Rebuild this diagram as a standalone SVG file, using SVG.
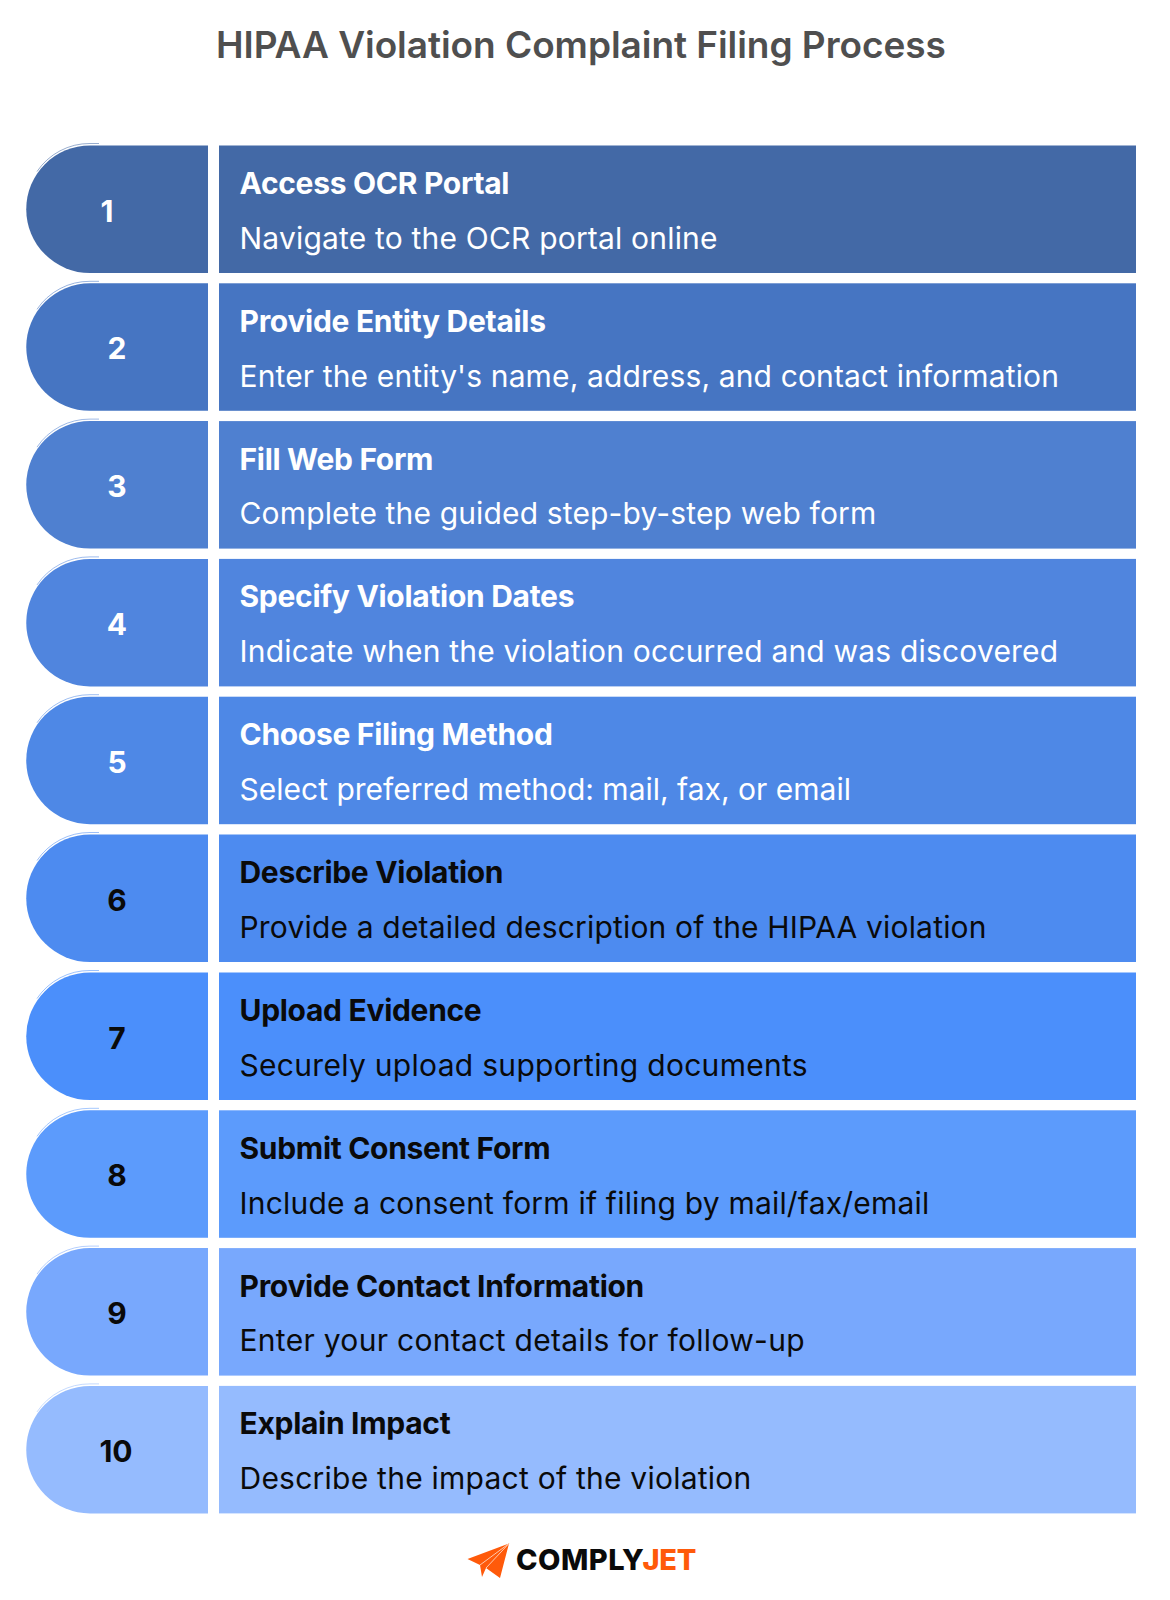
<svg xmlns="http://www.w3.org/2000/svg" width="1170" height="1600" viewBox="0 0 1170 1600">
<style>
text{font-family:Inter,"Liberation Sans",sans-serif}
.ti{font-size:37px;font-weight:600;fill:#4f4f4f;letter-spacing:-.05px}
.h{font-size:30px;font-weight:700;letter-spacing:-.3px}
.b{font-size:30px;font-weight:400;letter-spacing:.1px}
.n{font-size:30px;font-weight:700;text-anchor:middle}
.w{fill:#fff}.k{fill:#0a0a0a}
.edge{fill:none;stroke-opacity:.55;stroke-width:1}
.logo{font-size:29px;font-weight:800}
</style>
<rect width="1170" height="1600" fill="#fff"/>
<text class="ti" x="216" y="58">HIPAA Violation Complaint Filing Process</text>
<g id="step1"><path d="M208 145.500H90a63.700 63.700 0 0 0 0 127.500H208Z" fill="#4369a6"/><path class="edge" d="M99 143.500H90a63.500 63.500 0 0 0-53 28" style="stroke:#4369a6"/><rect x="219" y="145.500" width="917" height="127.500" fill="#4369a6"/><text class="n w" x="107" y="221.500">1</text><text class="h w" x="239.500" y="194">Access OCR Portal</text><text class="b w" style="letter-spacing:.19px" x="239.500" y="248.500">Navigate to the OCR portal online</text></g>
<g id="step2"><path d="M208 283.300H90a63.700 63.700 0 0 0 0 127.500H208Z" fill="#4675c2"/><path class="edge" d="M99 281.300H90a63.500 63.500 0 0 0-53 28" style="stroke:#4675c2"/><rect x="219" y="283.300" width="917" height="127.500" fill="#4675c2"/><text class="n w" x="117" y="359.300">2</text><text class="h w" x="239.500" y="331.800">Provide Entity Details</text><text class="b w" style="letter-spacing:.13px" x="239.500" y="386.600">Enter the entity's name, address, and contact information</text></g>
<g id="step3"><path d="M208 421.100H90a63.700 63.700 0 0 0 0 127.500H208Z" fill="#4f80d0"/><path class="edge" d="M99 419.100H90a63.500 63.500 0 0 0-53 28" style="stroke:#4f80d0"/><rect x="219" y="421.100" width="917" height="127.500" fill="#4f80d0"/><text class="n w" x="117" y="497.100">3</text><text class="h w" x="239.500" y="469.600">Fill Web Form</text><text class="b w" style="letter-spacing:.15px" x="239.500" y="524.400">Complete the guided step-by-step web form</text></g>
<g id="step4"><path d="M208 558.900H90a63.700 63.700 0 0 0 0 127.500H208Z" fill="#5085de"/><path class="edge" d="M99 556.900H90a63.500 63.500 0 0 0-53 28" style="stroke:#5085de"/><rect x="219" y="558.900" width="917" height="127.500" fill="#5085de"/><text class="n w" x="117" y="634.900">4</text><text class="h w" x="239.500" y="607.400">Specify Violation Dates</text><text class="b w" style="letter-spacing:.19px" x="239.500" y="661.900">Indicate when the violation occurred and was discovered</text></g>
<g id="step5"><path d="M208 696.700H90a63.700 63.700 0 0 0 0 127.500H208Z" fill="#4e88e6"/><path class="edge" d="M99 694.700H90a63.500 63.500 0 0 0-53 28" style="stroke:#4e88e6"/><rect x="219" y="696.700" width="917" height="127.500" fill="#4e88e6"/><text class="n w" x="117" y="772.700">5</text><text class="h w" x="239.500" y="745.200">Choose Filing Method</text><text class="b w" style="letter-spacing:0" x="239.500" y="799.700">Select preferred method: mail, fax, or email</text></g>
<g id="step6"><path d="M208 834.500H90a63.700 63.700 0 0 0 0 127.500H208Z" fill="#4d8bf0"/><path class="edge" d="M99 832.500H90a63.500 63.500 0 0 0-53 28" style="stroke:#4d8bf0"/><rect x="219" y="834.500" width="917" height="127.500" fill="#4d8bf0"/><text class="n k" x="117" y="910.500">6</text><text class="h k" x="239.500" y="883">Describe Violation</text><text class="b k" style="letter-spacing:.18px" x="239.500" y="937.500">Provide a detailed description of the HIPAA violation</text></g>
<g id="step7"><path d="M208 972.500H90a63.700 63.700 0 0 0 0 127.500H208Z" fill="#4b8ffb"/><path class="edge" d="M99 970.500H90a63.500 63.500 0 0 0-53 28" style="stroke:#4b8ffb"/><rect x="219" y="972.500" width="917" height="127.500" fill="#4b8ffb"/><text class="n k" x="117" y="1048.500">7</text><text class="h k" x="239.500" y="1020.800">Upload Evidence</text><text class="b k" style="letter-spacing:.3px" x="239.500" y="1075.700">Securely upload supporting documents</text></g>
<g id="step8"><path d="M208 1110.300H90a63.700 63.700 0 0 0 0 127.500H208Z" fill="#5c9bfc"/><path class="edge" d="M99 1108.300H90a63.500 63.500 0 0 0-53 28" style="stroke:#5c9bfc"/><rect x="219" y="1110.300" width="917" height="127.500" fill="#5c9bfc"/><text class="n k" x="117" y="1186.300">8</text><text class="h k" x="239.500" y="1158.600">Submit Consent Form</text><text class="b k" style="letter-spacing:.2px" x="239.500" y="1213.500">Include a consent form if filing by mail/fax/email</text></g>
<g id="step9"><path d="M208 1248.100H90a63.700 63.700 0 0 0 0 127.500H208Z" fill="#78a8fd"/><path class="edge" d="M99 1246.100H90a63.500 63.500 0 0 0-53 28" style="stroke:#78a8fd"/><rect x="219" y="1248.100" width="917" height="127.500" fill="#78a8fd"/><text class="n k" x="117" y="1323.900">9</text><text class="h k" x="239.500" y="1296.800">Provide Contact Information</text><text class="b k" style="letter-spacing:.3px" x="239.500" y="1351.300">Enter your contact details for follow-up</text></g>
<g id="step10"><path d="M208 1385.900H90a63.700 63.700 0 0 0 0 127.500H208Z" fill="#95bbfe"/><path class="edge" d="M99 1383.900H90a63.500 63.500 0 0 0-53 28" style="stroke:#95bbfe"/><rect x="219" y="1385.900" width="917" height="127.500" fill="#95bbfe"/><text class="n k" x="116" y="1461.700">10</text><text class="h k" x="239.500" y="1434.200">Explain Impact</text><text class="b k" style="letter-spacing:.24px" x="239.500" y="1489.100">Describe the impact of the violation</text></g>
<g id="logo"><path d="M467.500 1559L509 1543.500L500 1578L486 1568L482 1577L480 1565Z" fill="#ff5a0a"/><path d="M480 1565L509 1543.500M486 1568L509 1543.500" fill="none" stroke="#ffc9ad" stroke-width="1"/><text class="logo k" style="letter-spacing:.5px" x="516" y="1570">COMPLY</text><text class="logo" style="letter-spacing:-.3px" x="642.500" y="1570" fill="#ff5a0a">JET</text></g>
</svg>
